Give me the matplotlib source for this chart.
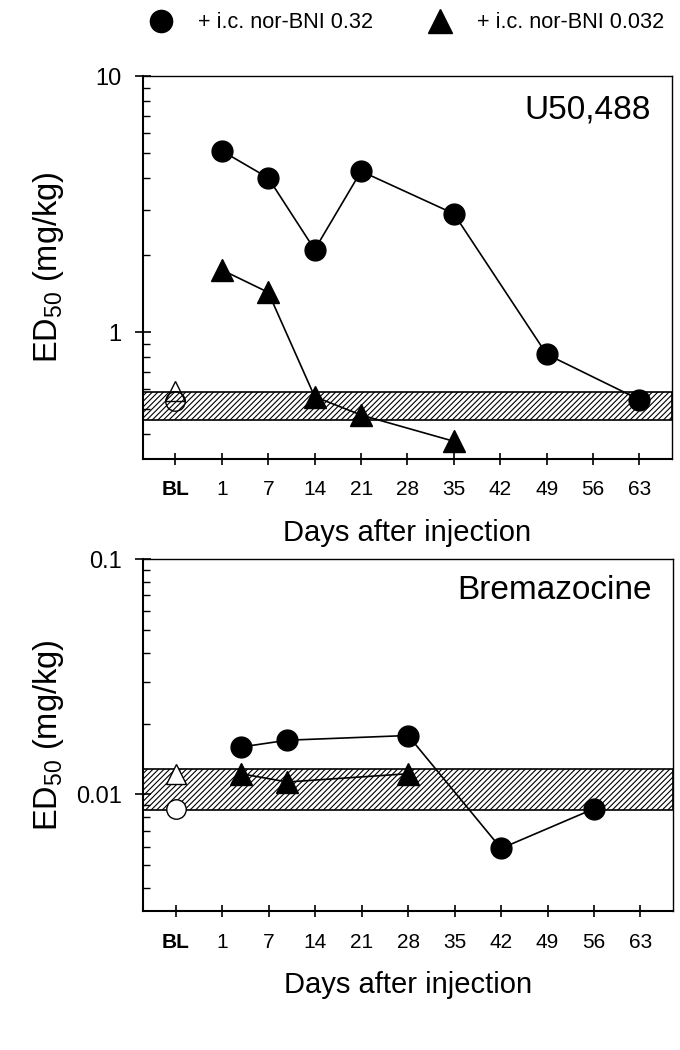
import numpy as np
import matplotlib
matplotlib.use("Agg")
import matplotlib.pyplot as plt
from matplotlib.ticker import LogLocator, NullFormatter
from matplotlib.lines import Line2D

plt.rcParams['font.family'] = ['Liberation Sans', 'DejaVu Sans']
plt.rcParams['mathtext.default'] = 'regular'
plt.rcParams['hatch.linewidth'] = 0.8

# x axis: categorical positions
tick_labels = ['BL', '1', '7', '14', '21', '28', '35', '42', '49', '56', '63']
tick_pos = list(range(len(tick_labels)))

# U50,488 panel
u_circ_x = [1, 2, 3, 4, 6, 8, 10]
u_circ_y = [5.1, 4.0, 2.1, 4.25, 2.9, 0.82, 0.545]
u_tri_x = [1, 2, 3, 4, 6]
u_tri_y = [1.75, 1.43, 0.56, 0.475, 0.375]
u_bl_circ = 0.54
u_bl_tri = 0.59
u_band = (0.455, 0.586)

# Bremazocine panel
b_circ_x = [1.4, 2.4, 5, 7, 9]
b_circ_y = [0.0159, 0.0170, 0.0178, 0.0059, 0.0087]
b_tri_x = [1.4, 2.4, 5]
b_tri_y = [0.01225, 0.0113, 0.01225]
b_bl_circ = 0.0087
b_bl_tri = 0.01225
b_band = (0.00855, 0.0128)


def style_axis(ax, ylim, yticks, yticklabels):
    ax.set_yscale('log')
    ax.set_ylim(*ylim)
    ax.set_xlim(-0.7, 10.7)
    ax.set_xticks(tick_pos)
    ax.set_xticklabels(tick_labels, fontsize=15)
    ax.get_xticklabels()[0].set_fontweight('bold')
    ax.set_yticks(yticks)
    ax.set_yticklabels(yticklabels, fontsize=17)
    ax.yaxis.set_minor_locator(LogLocator(base=10, subs=np.arange(2, 10)))
    ax.yaxis.set_minor_formatter(NullFormatter())
    ax.tick_params(axis='x', which='major', direction='inout', length=9, width=1.2, pad=11)
    ax.tick_params(axis='y', which='major', direction='inout', length=11, width=1.2, pad=10)
    ax.tick_params(axis='y', which='minor', direction='in', length=5, width=1.0)
    for s in ['left', 'bottom']:
        ax.spines[s].set_linewidth(1.5)
    for s in ['top', 'right']:
        ax.spines[s].set_linewidth(1.0)
    ax.set_xlabel('Days after injection', fontsize=21, labelpad=14)
    ax.set_ylabel('ED$_{50}$ (mg/kg)', fontsize=23.5)
    ax.yaxis.set_label_coords(-0.145, 0.5)


fig = plt.figure(figsize=(6.8, 10.5), dpi=100)
ax1 = fig.add_axes([0.2103, 0.5629, 0.7779, 0.3647])
ax2 = fig.add_axes([0.2107, 0.1324, 0.7790, 0.3352])

# top panel
ax1.axhspan(*u_band, facecolor='white', edgecolor='black', hatch='//////', lw=1.2, zorder=1)
ax1.plot(u_circ_x, u_circ_y, '-o', color='black', ms=15, lw=1.2, zorder=3)
ax1.plot(u_tri_x, u_tri_y, '-^', color='black', ms=16, lw=1.2, zorder=3)
ax1.plot([0], [u_bl_tri], '^', mfc='none', mec='black', mew=1.0, ms=14, zorder=3)
ax1.plot([0], [u_bl_circ], 'o', mfc='none', mec='black', mew=1.0, ms=14, zorder=3)
style_axis(ax1, (0.32, 10), [1, 10], ['1', '10'])
ax1.text(0.96, 0.91, 'U50,488', transform=ax1.transAxes, ha='right', va='center', fontsize=24)

# bottom panel
ax2.axhspan(*b_band, facecolor='white', edgecolor='black', hatch='//////', lw=1.2, zorder=1)
ax2.plot(b_circ_x, b_circ_y, '-o', color='black', ms=15, lw=1.2, zorder=3)
ax2.plot(b_tri_x, b_tri_y, '-^', color='black', ms=16, lw=1.2, zorder=3)
ax2.plot([0], [b_bl_tri], '^', mfc='white', mec='black', mew=1.0, ms=14, zorder=3)
ax2.plot([0], [b_bl_circ], 'o', mfc='white', mec='black', mew=1.0, ms=14, zorder=3)
style_axis(ax2, (0.0032, 0.1), [0.01, 0.1], ['0.01', '0.1'])
ax2.text(0.96, 0.91, 'Bremazocine', transform=ax2.transAxes, ha='right', va='center', fontsize=24)

# legend on top
handles = [
    Line2D([], [], ls='none', marker='o', color='black', ms=16),
    Line2D([], [], ls='none', marker='^', color='black', ms=17),
]
fig.legend(handles, ['+ i.c. nor-BNI 0.32', '+ i.c. nor-BNI 0.032'], loc='center left',
           bbox_to_anchor=(150 / 680, 1 - 23 / 1050), ncol=2, frameon=False, fontsize=15.6,
           handletextpad=1.2, columnspacing=2.6, handlelength=1.0,
           borderpad=0, borderaxespad=0)

fig.savefig('out.png', dpi=100)
